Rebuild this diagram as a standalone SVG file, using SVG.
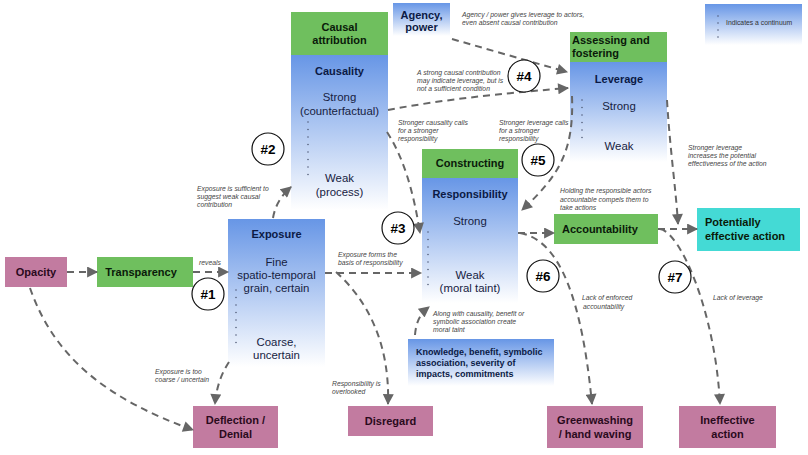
<svg xmlns="http://www.w3.org/2000/svg" width="808" height="455" viewBox="0 0 808 455">
<defs>
<linearGradient id="blue" x1="0" y1="0" x2="0" y2="1">
<stop offset="0" stop-color="#6796e6"/>
<stop offset="1" stop-color="#ffffff"/>
</linearGradient>
<marker id="arr" viewBox="0 0 10 10" refX="9" refY="5" markerWidth="12" markerHeight="11" markerUnits="userSpaceOnUse" orient="auto">
<path d="M0,0 L10,5 L0,10 z" fill="#666"/>
</marker>
<style>
text{font-family:"Liberation Sans",Arial,sans-serif}
.green{fill:#6fbf5e}
.pink{fill:#c27ba0}
.cyan{fill:#44dad5}
.blue{fill:url(#blue)}
.t{font-weight:bold;font-size:11px;text-anchor:middle;fill:#0b1a45}
.tg{font-weight:bold;font-size:11px;fill:#0a1a0a}
.tp{font-weight:bold;font-size:11px;text-anchor:middle;fill:#2a0a1c}
.b{font-size:11.4px;text-anchor:middle;fill:#16213f}
.k{font-weight:bold;font-size:9px;fill:#0b1a45}
.a{font-style:italic;font-size:6.8px;fill:#444}
.dots{stroke:#4a5470;stroke-width:1.5;stroke-linecap:round;stroke-dasharray:0 7.5;fill:none}
.c{fill:#fff;stroke:#111;stroke-width:1.2}
.ct{font-weight:bold;font-size:13.5px;text-anchor:middle;fill:#000}
.con path{fill:none;stroke:#666;stroke-width:2;stroke-dasharray:7 5;marker-end:url(#arr)}
</style>
</defs>
<rect width="808" height="455" fill="#fff"/>

<g id="causality">
<rect class="green" x="291" y="12" width="97" height="43"/>
<text class="tg" x="339.5" y="31" text-anchor="middle">Causal</text>
<text class="tg" x="339.5" y="44" text-anchor="middle">attribution</text>
<rect class="blue" x="291" y="55" width="97" height="155"/>
<text class="t" x="339.5" y="75">Causality</text>
<text class="b" x="339.5" y="101">Strong</text>
<text class="b" x="339.5" y="115">(counterfactual)</text>
<line class="dots" x1="308" y1="122" x2="308" y2="176"/>
<text class="b" x="339.5" y="182">Weak</text>
<text class="b" x="339.5" y="196">(process)</text>
</g>

<g id="agency">
<rect class="blue" x="393" y="3" width="57" height="33"/>
<text class="t" x="421.5" y="19">Agency,</text>
<text class="t" x="421.5" y="31">power</text>
</g>

<g id="leverage">
<rect class="green" x="570" y="32" width="97" height="30"/>
<text class="tg" x="572" y="44">Assessing and</text>
<text class="tg" x="572" y="57">fostering</text>
<rect class="blue" x="570" y="62" width="97" height="100"/>
<text class="t" x="619" y="83">Leverage</text>
<text class="b" x="619" y="110">Strong</text>
<line class="dots" x1="582" y1="100" x2="582" y2="143"/>
<text class="b" x="619" y="150">Weak</text>
</g>

<g id="legend">
<rect class="blue" x="705" y="4" width="97" height="41"/>
<line class="dots" x1="718" y1="16" x2="718" y2="38" style="stroke-dasharray:0 7"/>
<text x="726" y="24.5" style="font-size:6.8px;fill:#333">Indicates a continuum</text>
</g>

<g id="opacity">
<rect class="pink" x="5" y="257" width="62" height="30"/>
<text class="tp" x="36" y="276">Opacity</text>
</g>

<g id="transparency">
<rect class="green" x="97" y="257" width="96" height="30"/>
<text class="tg" x="141" y="276" text-anchor="middle">Transparency</text>
</g>

<g id="exposure">
<rect class="blue" x="228" y="219" width="97" height="148"/>
<text class="t" x="276.5" y="238">Exposure</text>
<text class="b" x="276.5" y="266">Fine</text>
<text class="b" x="276.5" y="279">spatio-temporal</text>
<text class="b" x="276.5" y="292">grain, certain</text>
<line class="dots" x1="236" y1="290" x2="236" y2="344"/>
<text class="b" x="276.5" y="346">Coarse,</text>
<text class="b" x="276.5" y="359">uncertain</text>
</g>

<g id="responsibility">
<rect class="green" x="422" y="149" width="96" height="29"/>
<text class="tg" x="470" y="167" text-anchor="middle">Constructing</text>
<rect class="blue" x="422" y="178" width="96" height="125"/>
<text class="t" x="470" y="198">Responsibility</text>
<text class="b" x="470" y="225">Strong</text>
<line class="dots" x1="428" y1="232" x2="428" y2="289"/>
<text class="b" x="470" y="279">Weak</text>
<text class="b" x="470" y="292">(moral taint)</text>
</g>

<g id="accountability">
<rect class="green" x="554" y="214" width="104" height="30"/>
<text class="tg" x="562" y="233">Accountability</text>
</g>

<g id="effective">
<rect class="cyan" x="697" y="208" width="103" height="43"/>
<text class="tg" x="705" y="226">Potentially</text>
<text class="tg" x="705" y="240">effective action</text>
</g>

<g id="knowledge">
<rect class="blue" x="408" y="339" width="146" height="47"/>
<text class="k" x="416" y="355">Knowledge, benefit, symbolic</text>
<text class="k" x="416" y="366">association, severity of</text>
<text class="k" x="416" y="377">impacts, commitments</text>
</g>

<g id="deflection">
<rect class="pink" x="193" y="406" width="85" height="42"/>
<text class="tp" x="235.5" y="424">Deflection /</text>
<text class="tp" x="235.5" y="438">Denial</text>
</g>

<g id="disregard">
<rect class="pink" x="348" y="406" width="85" height="30"/>
<text class="tp" x="390.5" y="425">Disregard</text>
</g>

<g id="greenwashing">
<rect class="pink" x="547" y="406" width="96" height="42"/>
<text class="tp" x="595" y="424">Greenwashing</text>
<text class="tp" x="595" y="438">/ hand waving</text>
</g>

<g id="ineffective">
<rect class="pink" x="679" y="406" width="97" height="42"/>
<text class="tp" x="727.5" y="424">Ineffective</text>
<text class="tp" x="727.5" y="438">action</text>
</g>

<g id="connectors" class="con">
<path d="M67,272 L97,272"/>
<path d="M193,272 L228,272"/>
<path d="M273,218 Q276,200 291,187"/>
<path d="M325,273 L421,273"/>
<path d="M336,272 C365,298 390,340 388,404"/>
<path d="M30,288 C55,360 110,400 193,430"/>
<path d="M229,362 Q217,380 215,404"/>
<path d="M388,110 C450,98 520,92 568,88"/>
<path d="M452,39 L567,72"/>
<path d="M387,132 C405,160 414,195 420,233"/>
<path d="M572,96 C574,150 560,175 522,210"/>
<path d="M518,233 L554,233"/>
<path d="M520,233 C560,240 582,300 592,404"/>
<path d="M658,229 L697,229"/>
<path d="M667,100 C670,150 676,190 678,224"/>
<path d="M660,229 C680,232 715,310 720,404"/>
<path d="M415,335 C416,322 420,314 429,307"/>
</g>

<g id="labels">
<text class="a" x="462" y="17">Agency / power gives leverage to actors,</text>
<text class="a" x="462" y="25">even absent causal contribution</text>
<text class="a" x="417" y="75">A strong causal contribution</text>
<text class="a" x="417" y="83">may indicate leverage, but is</text>
<text class="a" x="417" y="91">not a sufficient condition</text>
<text class="a" x="197" y="191">Exposure is sufficient to</text>
<text class="a" x="197" y="199">suggest weak causal</text>
<text class="a" x="197" y="207">contribution</text>
<text class="a" x="199" y="265">reveals</text>
<text class="a" x="338" y="257">Exposure forms the</text>
<text class="a" x="338" y="265">basis of  responsibility</text>
<text class="a" x="398" y="125">Stronger causality calls</text>
<text class="a" x="398" y="133">for a stronger</text>
<text class="a" x="398" y="141">responsibility</text>
<text class="a" x="499" y="125">Stronger leverage calls</text>
<text class="a" x="499" y="133">for a stronger</text>
<text class="a" x="499" y="141">responsibility</text>
<text class="a" x="560" y="193">Holding the responsible actors</text>
<text class="a" x="560" y="202">accountable compels them to</text>
<text class="a" x="560" y="210">take actions</text>
<text class="a" x="688" y="150">Stronger leverage</text>
<text class="a" x="688" y="158">increases the potential</text>
<text class="a" x="688" y="166">effectiveness of the action</text>
<text class="a" x="582" y="300">Lack of enforced</text>
<text class="a" x="583" y="309">accountability</text>
<text class="a" x="713" y="300">Lack of leverage</text>
<text class="a" x="155" y="374">Exposure is too</text>
<text class="a" x="155" y="382">coarse / uncertain</text>
<text class="a" x="332" y="386">Responsibility is</text>
<text class="a" x="332" y="394">overlooked</text>
<text class="a" x="433" y="316">Along with causality, benefit or</text>
<text class="a" x="433" y="324">symbolic association create</text>
<text class="a" x="433" y="332">moral taint</text>
</g>

<g id="badge1"><circle class="c" cx="208" cy="294" r="16"/><text class="ct" x="208" y="299">#1</text></g>
<g id="badge2"><circle class="c" cx="268" cy="149" r="16"/><text class="ct" x="268" y="154">#2</text></g>
<g id="badge3"><circle class="c" cx="398" cy="228" r="16"/><text class="ct" x="398" y="233">#3</text></g>
<g id="badge4"><circle class="c" cx="524" cy="76" r="16"/><text class="ct" x="524" y="81">#4</text></g>
<g id="badge5"><circle class="c" cx="538" cy="160" r="16"/><text class="ct" x="538" y="165">#5</text></g>
<g id="badge6"><circle class="c" cx="543" cy="276" r="16"/><text class="ct" x="543" y="281">#6</text></g>
<g id="badge7"><circle class="c" cx="675" cy="277" r="16"/><text class="ct" x="675" y="282">#7</text></g>
</svg>
